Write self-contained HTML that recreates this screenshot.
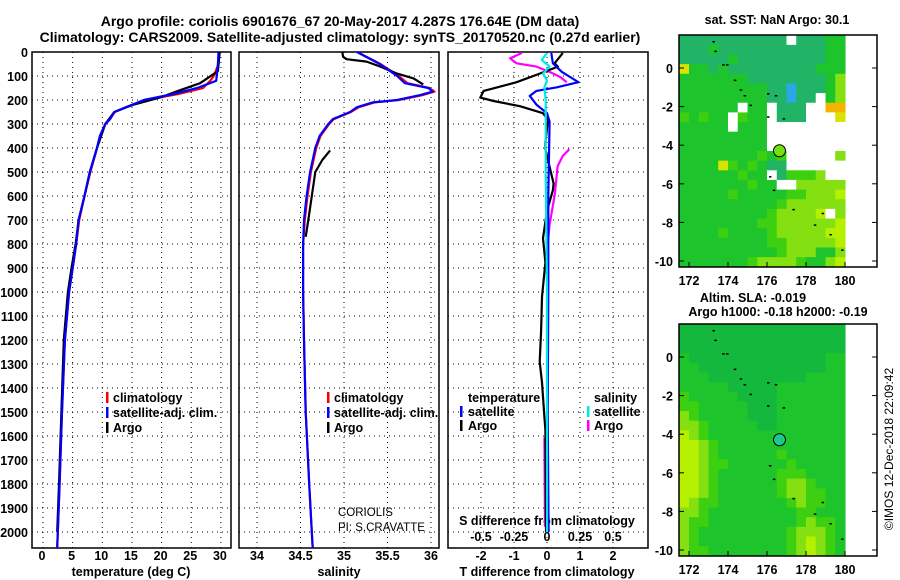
<!DOCTYPE html>
<html><head><meta charset="utf-8">
<style>
html,body{margin:0;padding:0;background:#fff;}
svg{display:block;font-family:"Liberation Sans",sans-serif;}
.b{font-weight:bold;font-size:12.5px;}
.t{font-weight:bold;font-size:14px;}
</style></head>
<body>
<svg id="chart" width="900" height="580" viewBox="0 0 900 580" xmlns="http://www.w3.org/2000/svg">
<text class="t" x="340" y="26" text-anchor="middle">Argo profile: coriolis 6901676_67 20-May-2017 4.287S 176.64E (DM data)</text>
<text class="t" x="340" y="42" text-anchor="middle">Climatology: CARS2009. Satellite-adjusted climatology: synTS_20170520.nc (0.27d earlier)</text>
<g id="g"></g>
</svg>
<script>
// ---------- data ----------
const depthTicks=[0,100,200,300,400,500,600,700,800,900,1000,1100,1200,1300,1400,1500,1600,1700,1800,1900,2000];
const tempTicks=[0,5,10,15,20,25,30];
const salTicks=[34,34.5,35,35.5,36];
const salTickLabels=["34","34.5","35","35.5","36"];
const tdTicks=[-2,-1,0,1,2];
const sdTicks=[-0.5,-0.25,0,0.25,0.5];
const sdTickLabels=["-0.5","-0.25","0","0.25","0.5"];

const climDepth=[0,50,100,120,150,175,200,230,250,280,300,350,400,500,600,700,800,900,1000,1200,1500,1800,2000,2066];
const climTemp=[29.7,29.6,28.8,28.2,27.0,22.8,17.3,14.0,12.1,11.3,10.5,9.6,9.1,8.0,7.0,6.1,5.6,5.0,4.4,3.7,3.2,2.8,2.5,2.4];
const satTemp=[29.6,29.5,29.3,29.2,26.0,22.0,17.0,14.0,12.0,11.3,10.5,9.6,9.1,7.9,7.0,6.0,5.6,5.0,4.4,3.7,3.2,2.8,2.5,2.4];
const argoTDepth=[0,80,130,160,190,220,250,300,400,500,600,700,800,900,1000,1200,1500,1800,2000];
const argoTemp=[29.8,29.5,26.5,23.0,19.7,15.2,12.0,10.5,9.1,7.9,7.0,6.0,5.5,4.8,4.2,3.5,3.1,2.7,2.4];

const salDepth=[0,50,100,130,150,165,180,200,210,230,250,280,300,350,400,500,600,700,800,1000,1200,1500,1800,2000,2066];
const climSal=[35.15,35.42,35.63,35.73,35.98,36.04,35.9,35.63,35.35,35.17,35.08,34.88,34.83,34.73,34.68,34.62,34.58,34.55,34.53,34.53,34.54,34.56,34.6,34.63,34.64];
const satSal=[35.15,35.41,35.61,35.70,35.97,36.02,35.87,35.61,35.33,35.15,35.07,34.87,34.82,34.72,34.67,34.61,34.57,34.54,34.53,34.53,34.54,34.56,34.6,34.63,34.64];
const argoSDepth=[0,20,30,40,60,90,110,135];
const argoSal=[34.98,34.99,35.03,35.26,35.41,35.61,35.80,35.91];
const argoSDepth2=[410,450,500,600,700,770];
const argoSal2=[34.84,34.75,34.67,34.63,34.59,34.56];

const tdDepth=[4,47,61,90,126,162,190,204,226,255,283,376,405,548,576,662,776,877,1020,1163,1291,1377,1520,1577,2000];
const tdArgo=[0.48,0.23,0.33,-0.22,-0.92,-1.92,-2.02,-1.62,-0.82,-0.12,0.03,-0.05,-0.05,0.2,0.18,0.0,-0.12,-0.05,-0.15,-0.18,-0.22,-0.15,-0.08,-0.05,-0.03];
const tdSatDepth=[4,47,83,104,126,147,162,183,219,255,290,600,1000,1500,2000];
const tdSat=[0.13,0.18,0.45,0.7,0.95,0.3,-0.32,-0.52,-0.32,0,0.08,0.04,0.04,0.02,0.05];
const sdArgoDepth=[4,26,47,61,83,104,126];
const sdArgo=[-0.19,-0.28,-0.23,-0.08,0.02,0.1,0.15];
const sdArgoDepth2=[405,433,476,591,719,776];
const sdArgo2=[0.17,0.12,0.08,0.06,0.02,0.01];
const sdArgoDepth3=[1606,1978];
const sdArgo3=[-0.02,-0.015];
const sdSatDepth=[4,33,61,90,118,147,200,500,1000,1500,2000];
const sdSat=[0,-0.04,0.02,-0.03,0,-0.02,-0.01,-0.01,0,0,0.0];

const lonTicks=[172,174,176,178,180];
const latTicks=[0,-2,-4,-6,-8,-10];
const floatLon=176.64, floatLat=-4.287;
const sstRows=[
"aaaaaaaaaaawaaabb","aaabaaaaaaaaaaabb","aaaaabaaaaaaaaabb","ybbabaaaaaaaaabbb",
"bbbbbbbaaaaaaaabd","bbbbbbbbbaalaaabd","bbbbbbbbbaalaawbd","bbbbbbwbbwaaawwoo",
"cbcbbwcbbwaaawwwy","bbbbbwbbbwwwwwwww","bbbbbbbbbwwwwwwww","bbbbbbbbbwwwwwwww",
"bbbbbbbbcbcwwwwwd","bbbbycbcbaawwwwww","bbbbbbcbbwacccdww","bbbbbbbcbbwwddddd",
"bbbbbcbbbbbccddde","bbbbbbbbbbcdddddd","bbbbbbbbbcddddewd","bbbbbbbbccdddddde",
"bbbbcbbbbcdddddee","bbbbbbbbbccddddde","bbbbbbbbbbcdddbbd","bbbbbbbcddddcbbde"];
const slaRows=[
"ggggggggggggggggg","ggggggggggggggggg","ggggggggggggggggg","bggggggggggggggbb",
"bbgggggggggggggbb","bbbggggggggggbbbb","bbbbbgggggbbbbbbb","cbbbbbggggbbbbbbb",
"ccbbbbbgggbbbbbbb","dcbbbbbgggbbbbbbb","ddcbbbbbggbbbbbbb","edcbbbbbbbbbbbbbb",
"eedcbbbbbbbbbbbbb","eedcbbbbbbcbbbbbb","eedccbbbbbbcbbbbb","eedcbbbbbbcccbbbb",
"eedcbbbbbbcddcbbb","eedcbbbbbbcddccbb","edccbbbbbbbcdccbb","ddcbbbbbbbbbccbbb",
"dccbbbbbbbbbcdccb","dcbbbbbbbbbcdddcb","dcbbbbbbbbbcdedcb","dccbbbbbbbbcdedcb"];
const coastLon=[173.2,173.3,173.7,173.9,174.3,174.6,174.8,175.1,176.0,176.4,176.8,176.1,176.3,177.3,178.4,178.8,179.2,179.8,176.0];
const coastLat=[1.4,0.9,0.2,0.2,-0.6,-1.1,-1.4,-1.9,-1.3,-1.4,-2.6,-5.6,-6.3,-7.3,-8.1,-7.5,-8.6,-9.4,-2.5];

// ---------- helpers ----------
const NS="http://www.w3.org/2000/svg";
const G=document.getElementById('g');
function mk(tag,attrs,parent){const e=document.createElementNS(NS,tag);for(const k in attrs)e.setAttribute(k,attrs[k]);(parent||G).appendChild(e);return e;}
const TOP=52,BOT=548;
const yD=d=>TOP+d*0.24;
const xT=t=>43+t*5.93;
const xS=s=>257+(s-34)*87;
const xTD=t=>547+t*33;
const xSD=s=>547+s*132;

function frame(x0,x1,name){
  const r=mk('rect',{x:x0,y:TOP,width:x1-x0,height:BOT-TOP,fill:'none',stroke:'#000','stroke-width':1.5});
  
  
  depthTicks.forEach(d=>{
    const l=mk('line',{x1:x0,x2:x1,y1:yD(d),y2:yD(d),stroke:'#000','stroke-width':1,'stroke-dasharray':'1,4'});
    
    
  });
}
function vgrid(xs,name){
  xs.forEach(x=>{
    const l=mk('line',{x1:x,x2:x,y1:TOP,y2:BOT,stroke:'#000','stroke-width':1,'stroke-dasharray':'1,4'});
    
    
  });
}
function line(ds,vs,fx,color,name,w){
  const pts=ds.map((d,i)=>fx(vs[i]).toFixed(1)+','+yD(d).toFixed(1)).join(' ');
  const p=mk('polyline',{points:pts,fill:'none',stroke:color,'stroke-width':w||2.2,'stroke-linejoin':'round'});
  
  
}
function txt(x,y,s,cls,anchor,name,extra){
  const t=mk('text',Object.assign({x:x,y:y,'text-anchor':anchor||'start'},extra||{}));
  if(cls)t.setAttribute('class',cls);
  t.textContent=s;
  
  
  return t;
}
function legMark(x,y,color,name){
  const r=mk('rect',{x:x,y:y-10,width:2.5,height:11,fill:color});
  
  
}

// ---------- panels ----------
frame(32,231,'temperature-panel');
frame(239,439,'salinity-panel');
frame(448,648,'difference-panel');
vgrid(tempTicks.map(xT),'temperature-gridline');
vgrid(salTicks.map(xS),'salinity-gridline');
vgrid(tdTicks.map(xTD),'t-difference-gridline');

depthTicks.forEach(d=>txt(28,yD(d)+5,String(d),'b','end','depth-tick-label'));
tempTicks.forEach(t=>txt(xT(t)-1,560,String(t),'b','middle','temperature-tick-label'));
salTicks.forEach((s,i)=>txt(xS(s),560,salTickLabels[i],'b','middle','salinity-tick-label'));
tdTicks.forEach(t=>txt(xTD(t),560,String(t),'b','middle','t-difference-tick-label'));
sdTicks.forEach((s,i)=>txt(xSD(s),541,sdTickLabels[i],'b','middle','s-difference-tick-label'));
txt(131,576,'temperature (deg C)','b','middle','temperature-axis-title');
txt(339,576,'salinity','b','middle','salinity-axis-title');
txt(547,576,'T difference from climatology','b','middle','t-difference-axis-title');
txt(547,525,'S difference from climatology','b','middle','s-difference-axis-title');

// temperature
line(climDepth,climTemp,xT,'#ff0000','temperature-climatology-line');
line(argoTDepth,argoTemp,xT,'#000000','temperature-argo-line');
line(climDepth,satTemp,xT,'#0000ff','temperature-satellite-line');
// salinity
line(salDepth,climSal,xS,'#ff0000','salinity-climatology-line');
line(argoSDepth,argoSal,xS,'#000000','salinity-argo-line');
line(argoSDepth2,argoSal2,xS,'#000000','salinity-argo-line-deep');
line(salDepth,satSal,xS,'#0000ff','salinity-satellite-line');
// differences
line(sdArgoDepth,sdArgo,xSD,'#ff00ff','s-diff-argo-line');
line(sdArgoDepth2,sdArgo2,xSD,'#ff00ff','s-diff-argo-line-2');
line(sdArgoDepth3,sdArgo3,xSD,'#ff00ff','s-diff-argo-line-3');
line(tdDepth,tdArgo,xTD,'#000000','t-diff-argo-line');
line(tdSatDepth,tdSat,xTD,'#0000ff','t-diff-satellite-line');
line(sdSatDepth,sdSat,xSD,'#00e8e8','s-diff-satellite-line');

// legends
[['climatology','#ff0000'],['satellite-adj. clim.','#0000ff'],['Argo','#000000']].forEach((e,i)=>{
  legMark(106,402+i*15,e[1],'temperature-legend-marker');
  txt(113,402+i*15,e[0],'b','start','temperature-legend-entry');
  legMark(327,402+i*15,e[1],'salinity-legend-marker');
  txt(334,402+i*15,e[0],'b','start','salinity-legend-entry');
});
txt(468,402,'temperature','b','start','diff-legend-temperature-header');
txt(594,402,'salinity','b','start','diff-legend-salinity-header');
legMark(460,416,'#0000ff','diff-legend-marker');txt(468,416,'satellite','b','start','diff-legend-t-satellite');
legMark(460,430,'#000000','diff-legend-marker');txt(468,430,'Argo','b','start','diff-legend-t-argo');
legMark(587,416,'#00e8e8','diff-legend-marker');txt(594,416,'satellite','b','start','diff-legend-s-satellite');
legMark(587,430,'#ff00ff','diff-legend-marker');txt(594,430,'Argo','b','start','diff-legend-s-argo');
txt(338,516,'CORIOLIS',null,'start','institution-label',{'font-size':'11.5'});
txt(338,531,'PI: S.CRAVATTE',null,'start','pi-label',{'font-size':'11.5'});

// ---------- maps ----------
const pal={a:'#22b466',b:'#1ec42c',c:'#3cd010',d:'#84e010',e:'#b4f000',y:'#d8e400',o:'#f4b400',l:'#28a8e8',g:'#14b83c',w:'#ffffff'};
function map(rows,top,lat0,name,dotColor){
  const xL=lon=>689+(lon-172)*19.5;
  const yL=lat=>lat0-lat*19.3;
  const grp=mk('g',{});
  
  
  rows.forEach((row,r)=>{
    for(let c=0;c<row.length;c++){
      const lonA=171.5+c*0.5, latA=1.7-r*0.5;
      const x=xL(lonA),y=yL(latA);
      const cell=mk('rect',{x:x.toFixed(2),y:y.toFixed(2),width:10.3,height:10.2,fill:pal[row[c]]},grp);
      
      
    }
  });
  coastLon.forEach((lo,i)=>{
    const d=mk('rect',{x:xL(lo),y:yL(coastLat[i]),width:2.5,height:1.5,fill:'#000'},grp);
    
    
  });
  const f=mk('rect',{x:679,y:top,width:198,height:232,fill:'none',stroke:'#000','stroke-width':1.5});
  
  
  mk('rect',{x:679,y:top-12,width:198,height:11,fill:'#fff'});
  mk('rect',{x:679,y:top+233,width:198,height:10,fill:'#fff'});
  latTicks.forEach(la=>{
    txt(673,yL(la)+5,String(la),'b','end','map-lat-label');
    mk('line',{x1:679,x2:684,y1:yL(la),y2:yL(la),stroke:'#000'});
    mk('line',{x1:872,x2:877,y1:yL(la),y2:yL(la),stroke:'#000'});
  });
  lonTicks.forEach(lo=>{
    txt(xL(lo),top+250,String(lo),'b','middle','map-lon-label');
    mk('line',{x1:xL(lo),x2:xL(lo),y1:top+232,y2:top+227,stroke:'#000'});
  });
  const m=mk('circle',{cx:xL(floatLon),cy:yL(floatLat),r:6,fill:dotColor,stroke:'#000','stroke-width':1});
  
  
}
map(sstRows,35,68,'sst-map','#74e010');
map(slaRows,324,357,'sla-map','#1cc890');
txt(777,24,'sat. SST: NaN Argo: 30.1','b','middle','sst-map-title');
txt(753,302,'Altim. SLA: -0.019','b','middle','sla-map-title');
txt(778,316,'Argo h1000: -0.18 h2000: -0.19','b','middle','sla-map-subtitle');
txt(0,0,'©IMOS 12-Dec-2018 22:09:42',null,'middle','copyright-label',{'font-size':'12',transform:'translate(893,449) rotate(-90)'});
</script>
</body></html>
